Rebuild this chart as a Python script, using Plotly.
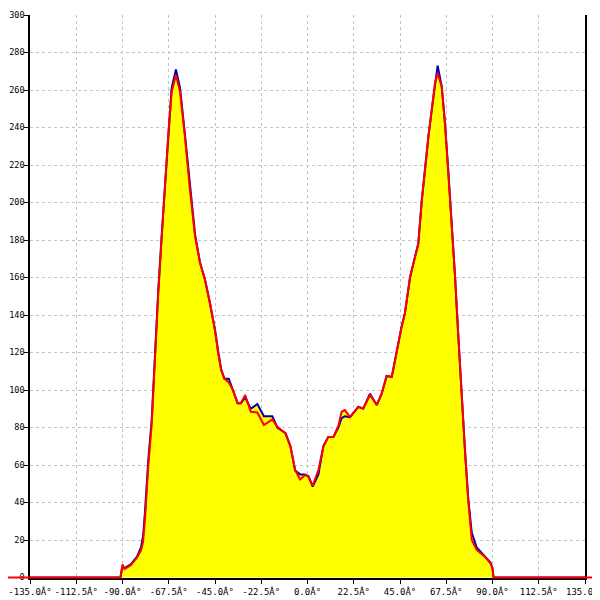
import plotly.graph_objects as go

angles = [-150, -91, -90, -89, -86, -83, -81, -80, -79, -77.5, -75.8, -74.2, -72.6, -70.9, -69.3,
          -67.7, -66.1, -64, -62, -59.6, -57.2, -54.7, -52.3, -49.9, -47.4, -45, -43.5, -42, -40.4,
          -38.3, -36.3, -34, -32.4, -30.3, -27.6, -24.4, -21.2, -17.1, -14.7, -10.7, -8.3, -6, -3.6,
          -1.2, 0.5, 2.5, 5.3, 7.7, 10.1, 12.6, 15, 16.6, 18.2, 20.7, 24.7, 27.1, 30.4, 33.7, 36.1,
          38.5, 41, 43.4, 45.8, 47.4, 49.9, 52.3, 53.9, 55.6, 57.2, 58.8, 60.4, 62, 63.3, 65.3, 66.9,
          68.5, 70.1, 71.8, 73.4, 75, 76.6, 78.2, 79.9, 82.3, 86.4, 89, 90, 90.5, 150]

blue_vals = [0, 0, 6, 5, 7, 11, 16, 22, 36, 62, 84, 122, 153, 183, 211,
             238, 261, 271, 261, 236, 208, 183, 168, 159, 146, 132, 121, 111, 106,
             106, 100, 93, 93, 96, 90, 92.5, 86, 86, 80, 77, 70, 57, 55,
             55, 54, 48.5, 55, 70, 75, 75, 80, 85, 86, 85.5, 91, 90, 98, 92, 98,
             107.5, 107, 121, 134, 141, 160, 171, 178, 201, 219, 235, 249, 264, 273, 262, 242,
             217, 192, 160, 128, 95, 68, 42, 24, 16, 11, 8, 5, 0, 0]

red_vals = [0, 0, 7, 4.5, 6.5, 10.5, 14.5, 19, 32, 59, 82, 121, 152, 182, 210,
            237, 259, 268, 259, 235, 207, 182, 168, 159, 146, 132, 120, 110.7, 106,
            104, 100, 93, 93, 97.3, 88.4, 88, 81.3, 84.3, 80.4, 76.9, 69.8, 57.3, 52.3,
            54.7, 53.6, 49, 57.3, 69.8, 75, 75, 81, 88.4, 89.3, 85.6, 91.1, 90.2, 97.3, 92, 98.2,
            107.5, 107, 121, 133.8, 141, 160.4, 171, 178, 201.3, 219, 235, 249, 263.6, 269, 261.8, 242,
            217, 192.4, 160.4, 128.4, 94.7, 68, 41.3, 20, 14.7, 11, 7.5, 5, 0, 0]

x_ticks = [-135, -112.5, -90, -67.5, -45, -22.5, 0, 22.5, 45, 67.5, 90, 112.5, 135]
x_tick_text = ["-135.0Â°", "-112.5Â°", "-90.0Â°", "-67.5Â°", "-45.0Â°", "-22.5Â°", "0.0Â°",
               "22.5Â°", "45.0Â°", "67.5Â°", "90.0Â°", "112.5Â°", "135.0Â°"]
y_ticks = list(range(0, 301, 20))

W, H = 600, 600
OFF = 8  # page body margin offset
left_px, right_px, top_px, bottom_px = 30 - OFF, 585 - OFF, 15 - OFF, 577.5 - OFF
x_min, x_max = -135, 135
y_min, y_max = 0, 300
px_per_deg = (right_px - left_px) / (x_max - x_min)
px_per_val = (bottom_px - top_px) / (y_max - y_min)

plot_h = H - top_px  # margin bottom 0
x_dom = [left_px / W, right_px / W]
y_dom = [(H - bottom_px) / plot_h, 1]
x2_range = [x_min - left_px / px_per_deg, x_max + (W - right_px) / px_per_deg]
y2_range = [y_min - (H - bottom_px) / px_per_val, y_max]

fig = go.Figure()
fig.add_trace(go.Scatter(x=angles, y=blue_vals, mode="lines", line=dict(width=0),
                         fill="tozeroy", fillcolor="#ffff00", hoverinfo="skip", showlegend=False))
fig.add_trace(go.Scatter(x=angles, y=red_vals, mode="lines", line=dict(width=0),
                         fill="tozeroy", fillcolor="#ffff00", hoverinfo="skip", showlegend=False))
fig.add_trace(go.Scatter(x=angles, y=blue_vals, mode="lines", line=dict(color="#0000b0", width=2),
                         showlegend=False))
fig.add_trace(go.Scatter(x=angles, y=red_vals, mode="lines", line=dict(color="#ff0000", width=2),
                         xaxis="x2", yaxis="y2", showlegend=False))

tick_font = dict(family="DejaVu Sans Mono", size=9, color="#000000")
ytick_font = dict(family="DejaVu Sans Mono", size=8.5, color="#000000")
grid_kw = dict(showgrid=True, gridcolor="#c4c4c4", gridwidth=1, griddash="3px,3px")

fig.update_layout(
    width=W, height=H,
    margin=dict(l=0, r=0, t=top_px, b=0, autoexpand=False),
    paper_bgcolor="white", plot_bgcolor="rgba(0,0,0,0)",
    xaxis=dict(domain=x_dom, range=[x_min, x_max], tickvals=x_ticks, ticktext=x_tick_text,
               tickfont=tick_font, ticks="outside", ticklen=5, tickcolor="black",
               showline=True, linecolor="black", linewidth=1.5, zeroline=False,
               anchor="y", automargin=False, **grid_kw),
    yaxis=dict(domain=y_dom, range=[y_min, y_max], tickvals=y_ticks,
               tickfont=ytick_font, ticks="outside", ticklen=4, tickcolor="black",
               ticklabelstandoff=-2,
               showline=True, linecolor="black", linewidth=1.5, mirror=True, zeroline=False,
               anchor="x", automargin=False, **grid_kw),
    xaxis2=dict(domain=[0, 1], range=x2_range, visible=False, anchor="y2", showgrid=False,
                automargin=False),
    yaxis2=dict(domain=[0, 1], range=y2_range, visible=False, anchor="x2", showgrid=False,
                automargin=False),
)

fig.write_html("out.html")
